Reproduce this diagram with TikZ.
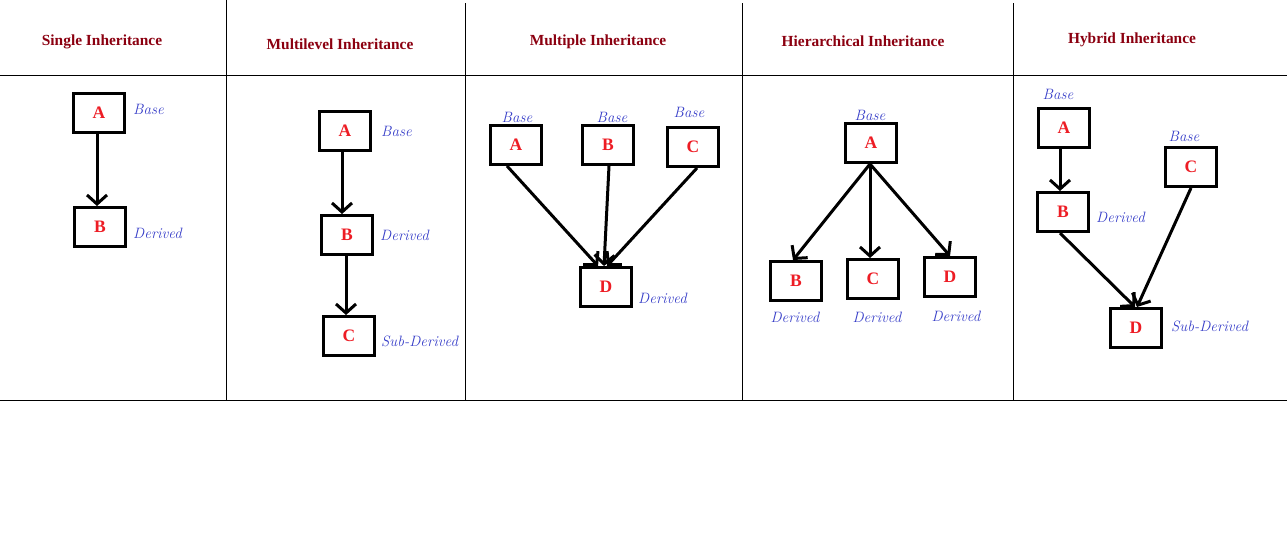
\documentclass[tikz,border=0pt]{standalone}
\usepackage{fontspec}
\newfontfamily\titlefont{Liberation Serif}
\usetikzlibrary{arrows.meta}
\definecolor{titlered}{RGB}{139,0,16}
\definecolor{boxred}{RGB}{237,28,36}
\definecolor{lblue}{RGB}{55,62,200}
\begin{document}
\begin{tikzpicture}[x=1pt,y=-1pt,
  frame/.style={line width=1pt,black},
  title/.style={text=titlered,font=\titlefont\fontsize{15.4}{18}\selectfont\bfseries,inner sep=0pt},
  cls/.style={draw=black,line width=3pt,minimum width=51pt,minimum height=39pt,inner sep=0pt,
    text=boxred,font=\titlefont\fontsize{17.5}{20}\selectfont\bfseries},
  lbl/.style={text=lblue,font=\fontsize{15}{17}\selectfont\itshape,inner sep=0pt},
  inh/.style={line width=3pt,-{Straight Barb[length=9pt,width=20pt]}}]
\useasboundingbox (0,0) rectangle (1287,544);
% frame
\draw[frame] (0,75) -- (1287,75);
\draw[frame] (0,400) -- (1287,400);
\draw[frame] (226,0) -- (226,400);
\draw[frame] (465,3) -- (465,400);
\draw[frame] (742,3) -- (742,400);
\draw[frame] (1013,3) -- (1013,400);
% titles
\node[title] (t1) at (102,42) {Single Inheritance};
\node[title] (t2) at (340,44) {Multilevel Inheritance};
\node[title] (t3) at (598,42) {Multiple Inheritance};
\node[title] (t4) at (863,41) {Hierarchical Inheritance};
\node[title] (t5) at (1132,40) {Hybrid Inheritance};
% single
\node[cls] (sA) at (99,113) {A};
\node[cls] (sB) at (100,227) {B};
\node[lbl,anchor=west] (sAl) at (133,109) {Base};
\node[lbl,anchor=west] (sBl) at (133,233) {Derived};
\draw[inh] ([xshift=-2pt]sA.south) -- ([xshift=-3pt]sB.north);
% multilevel
\node[cls] (mlA) at (345,131) {A};
\node[cls] (mlB) at (347,235) {B};
\node[cls] (mlC) at (349,336) {C};
\node[lbl,anchor=west] (mlAl) at (381,131) {Base};
\node[lbl,anchor=west] (mlBl) at (380,235) {Derived};
\node[lbl,anchor=west] (mlCl) at (381,341) {Sub-Derived};
\draw[inh] ([xshift=-3pt]mlA.south) -- ([xshift=-5pt]mlB.north);
\draw[inh] ([xshift=-1pt]mlB.south) -- ([xshift=-3pt]mlC.north);
% multiple
\node[cls] (mpA) at (516,145) {A};
\node[cls] (mpB) at (608,145) {B};
\node[cls] (mpC) at (693,147) {C};
\node[cls] (mpD) at (606,287) {D};
\node[lbl] (mpAl) at (517,117) {Base};
\node[lbl] (mpBl) at (612,117) {Base};
\node[lbl] (mpCl) at (689,112) {Base};
\node[lbl,anchor=west] (mpDl) at (638,298) {Derived};
\draw[inh] ([xshift=-9pt]mpA.south) -- ([xshift=-8pt]mpD.north);
\draw[inh] ([xshift=1pt]mpB.south) -- ([xshift=-2pt]mpD.north);
\draw[inh] ([xshift=4pt]mpC.south) -- ([xshift=1pt]mpD.north);
% hierarchical
\node[cls] (hA) at (871,143) {A};
\node[cls] (hB) at (796,281) {B};
\node[cls] (hC) at (873,279) {C};
\node[cls] (hD) at (950,277) {D};
\node[lbl] (hAl) at (870,115) {Base};
\node[lbl] (hBl) at (795,317) {Derived};
\node[lbl] (hCl) at (877,317) {Derived};
\node[lbl] (hDl) at (956,316) {Derived};
\draw[inh] ([xshift=-1pt]hA.south) -- ([xshift=-3pt]hB.north);
\draw[inh] ([xshift=-1pt]hA.south) -- ([xshift=-3pt]hC.north);
\draw[inh] ([xshift=-1pt]hA.south) -- (hD.north);
% hybrid
\node[cls] (yA) at (1064,128) {A};
\node[cls] (yB) at (1063,212) {B};
\node[cls] (yC) at (1191,167) {C};
\node[cls] (yD) at (1136,328) {D};
\node[lbl] (yAl) at (1058,94) {Base};
\node[lbl] (yCl) at (1184,136) {Base};
\node[lbl,anchor=west] (yBl) at (1096,217) {Derived};
\node[lbl,anchor=west] (yDl) at (1171,326) {Sub-Derived};
\draw[inh] ([xshift=-4pt]yA.south) -- ([xshift=-3pt]yB.north);
\draw[inh] ([xshift=-3pt]yB.south) -- ([xshift=-1pt]yD.north);
\draw[inh] (yC.south) -- ([xshift=1pt]yD.north);
\end{tikzpicture}
\end{document}
